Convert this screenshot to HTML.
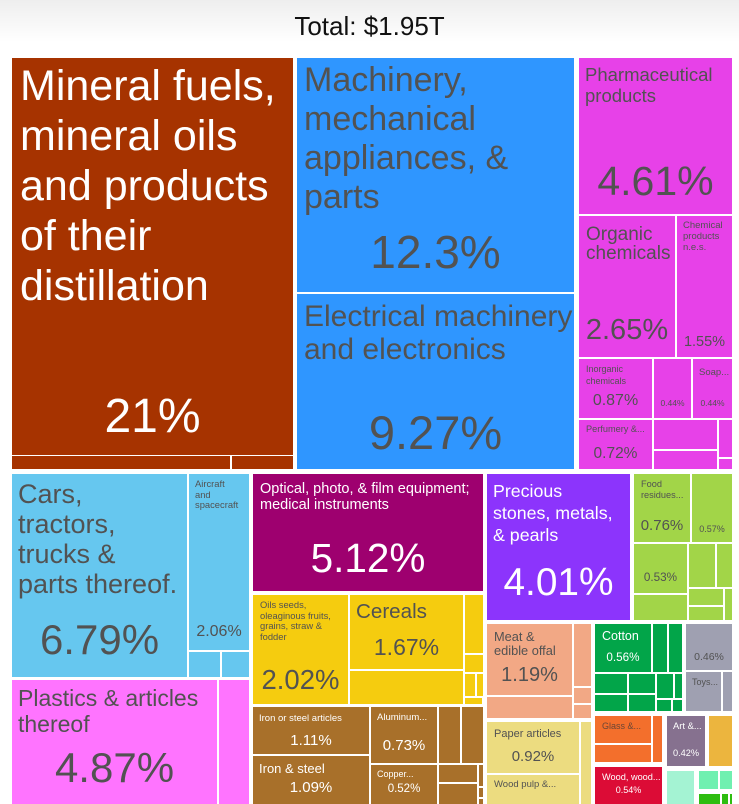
<!DOCTYPE html>
<html><head><meta charset="utf-8"><style>
body{margin:0;width:739px;height:804px;overflow:hidden;background:linear-gradient(#eeeeee,#ffffff 42px);font-family:"Liberation Sans",sans-serif;position:relative}
.r{position:absolute}
.t{position:absolute;white-space:nowrap;line-height:1;color:#525252}
.w{color:#fff}
.c{text-align:center}
.mf{background:#a63300}.bl{background:#2f96ff}.mg{background:#e741e8}.cb{background:#66c7ef}.pk{background:#ff74ff}
.op{background:#9e006f}.ye{background:#f5cc0f}.br{background:#a8702a}.pu{background:#8c34fc}.gr{background:#a2d548}
.sa{background:#f2a885}.pa{background:#ecdc80}.cg{background:#02a549}.gy{background:#9fa0b1}.or{background:#f36f2c}
.rd{background:#dc0c36}.ar{background:#86718f}.go{background:#ecb53e}.mi{background:#a4f3d3}.m2{background:#70f0b0}.bg{background:#2ebd10}
</style></head><body>
<div class="t c" style="left:0;top:13px;width:739px;font-size:26px;color:#111">Total: $1.95T</div>

<!-- Mineral fuels -->
<div class="r mf" style="left:12px;top:58px;width:281px;height:397px"></div>
<div class="r mf" style="left:12px;top:456px;width:218px;height:13px"></div>
<div class="r mf" style="left:232px;top:456px;width:61px;height:13px"></div>

<!-- Machinery / electrical -->
<div class="r bl" style="left:297px;top:58px;width:277px;height:234px"></div>
<div class="r bl" style="left:297px;top:294px;width:277px;height:175px"></div>

<!-- Chemicals -->
<div class="r mg" style="left:579px;top:58px;width:153px;height:156px"></div>
<div class="r mg" style="left:579px;top:216px;width:96px;height:141px"></div>
<div class="r mg" style="left:677px;top:216px;width:55px;height:141px"></div>
<div class="r mg" style="left:579px;top:359px;width:73px;height:59px"></div>
<div class="r mg" style="left:654px;top:359px;width:37px;height:59px"></div>
<div class="r mg" style="left:693px;top:359px;width:39px;height:59px"></div>
<div class="r mg" style="left:579px;top:420px;width:73px;height:49px"></div>
<div class="r mg" style="left:654px;top:420px;width:63px;height:29px"></div>
<div class="r mg" style="left:654px;top:451px;width:63px;height:18px"></div>
<div class="r mg" style="left:719px;top:420px;width:13px;height:37px"></div>
<div class="r mg" style="left:719px;top:459px;width:13px;height:10px"></div>

<!-- Cars / aircraft -->
<div class="r cb" style="left:12px;top:474px;width:175px;height:203px"></div>
<div class="r cb" style="left:189px;top:474px;width:60px;height:176px"></div>
<div class="r cb" style="left:189px;top:652px;width:31px;height:25px"></div>
<div class="r cb" style="left:222px;top:652px;width:27px;height:25px"></div>

<!-- Plastics -->
<div class="r pk" style="left:12px;top:680px;width:205px;height:124px"></div>
<div class="r pk" style="left:219px;top:680px;width:30px;height:124px"></div>

<!-- Optical -->
<div class="r op" style="left:253px;top:474px;width:230px;height:117px"></div>

<!-- Yellow -->
<div class="r ye" style="left:253px;top:595px;width:95px;height:109px"></div>
<div class="r ye" style="left:350px;top:595px;width:113px;height:74px"></div>
<div class="r ye" style="left:350px;top:671px;width:113px;height:33px"></div>
<div class="r ye" style="left:465px;top:595px;width:18px;height:58px"></div>
<div class="r ye" style="left:465px;top:655px;width:18px;height:17px"></div>
<div class="r ye" style="left:465px;top:674px;width:10px;height:22px"></div>
<div class="r ye" style="left:477px;top:674px;width:6px;height:22px"></div>
<div class="r ye" style="left:465px;top:698px;width:17px;height:6px"></div>

<!-- Brown metals -->
<div class="r br" style="left:253px;top:707px;width:116px;height:47px"></div>
<div class="r br" style="left:253px;top:756px;width:116px;height:48px"></div>
<div class="r br" style="left:371px;top:707px;width:66px;height:56px"></div>
<div class="r br" style="left:371px;top:765px;width:66px;height:39px"></div>
<div class="r br" style="left:439px;top:707px;width:21px;height:56px"></div>
<div class="r br" style="left:462px;top:707px;width:21px;height:56px"></div>
<div class="r br" style="left:439px;top:765px;width:38px;height:17px"></div>
<div class="r br" style="left:439px;top:784px;width:38px;height:20px"></div>
<div class="r br" style="left:479px;top:765px;width:4px;height:21px"></div>
<div class="r br" style="left:479px;top:788px;width:4px;height:9px"></div>
<div class="r br" style="left:479px;top:799px;width:4px;height:5px"></div>

<!-- Precious -->
<div class="r pu" style="left:487px;top:474px;width:143px;height:146px"></div>

<!-- Green food -->
<div class="r gr" style="left:634px;top:474px;width:56px;height:68px"></div>
<div class="r gr" style="left:692px;top:474px;width:40px;height:68px"></div>
<div class="r gr" style="left:634px;top:544px;width:53px;height:49px"></div>
<div class="r gr" style="left:634px;top:595px;width:53px;height:25px"></div>
<div class="r gr" style="left:689px;top:544px;width:26px;height:43px"></div>
<div class="r gr" style="left:717px;top:544px;width:15px;height:43px"></div>
<div class="r gr" style="left:689px;top:589px;width:34px;height:16px"></div>
<div class="r gr" style="left:689px;top:607px;width:34px;height:13px"></div>
<div class="r gr" style="left:725px;top:589px;width:7px;height:31px"></div>

<!-- Meat -->
<div class="r sa" style="left:487px;top:624px;width:85px;height:71px"></div>
<div class="r sa" style="left:487px;top:697px;width:85px;height:21px"></div>
<div class="r sa" style="left:574px;top:624px;width:17px;height:62px"></div>
<div class="r sa" style="left:574px;top:688px;width:17px;height:15px"></div>
<div class="r sa" style="left:574px;top:705px;width:17px;height:13px"></div>

<!-- Paper -->
<div class="r pa" style="left:487px;top:722px;width:92px;height:51px"></div>
<div class="r pa" style="left:487px;top:775px;width:92px;height:29px"></div>
<div class="r pa" style="left:581px;top:722px;width:10px;height:82px"></div>

<!-- Cotton / textiles -->
<div class="r cg" style="left:595px;top:624px;width:56px;height:48px"></div>
<div class="r cg" style="left:653px;top:624px;width:14px;height:48px"></div>
<div class="r cg" style="left:669px;top:624px;width:13px;height:48px"></div>
<div class="r cg" style="left:595px;top:674px;width:32px;height:19px"></div>
<div class="r cg" style="left:629px;top:674px;width:26px;height:19px"></div>
<div class="r cg" style="left:595px;top:695px;width:32px;height:16px"></div>
<div class="r cg" style="left:629px;top:695px;width:26px;height:16px"></div>
<div class="r cg" style="left:657px;top:674px;width:16px;height:24px"></div>
<div class="r cg" style="left:675px;top:674px;width:7px;height:24px"></div>
<div class="r cg" style="left:657px;top:700px;width:14px;height:11px"></div>
<div class="r cg" style="left:673px;top:700px;width:9px;height:11px"></div>

<!-- Gray -->
<div class="r gy" style="left:686px;top:624px;width:46px;height:46px"></div>
<div class="r gy" style="left:686px;top:672px;width:35px;height:39px"></div>
<div class="r gy" style="left:723px;top:672px;width:9px;height:39px"></div>

<!-- Glass -->
<div class="r or" style="left:595px;top:716px;width:56px;height:27px"></div>
<div class="r or" style="left:595px;top:745px;width:56px;height:17px"></div>
<div class="r or" style="left:653px;top:716px;width:9px;height:46px"></div>

<!-- Wood -->
<div class="r rd" style="left:595px;top:767px;width:67px;height:37px"></div>

<!-- Art / gold -->
<div class="r ar" style="left:667px;top:716px;width:38px;height:50px"></div>
<div class="r go" style="left:709px;top:716px;width:23px;height:50px"></div>

<!-- Mint / green -->
<div class="r mi" style="left:667px;top:771px;width:27px;height:33px"></div>
<div class="r m2" style="left:699px;top:771px;width:19px;height:18px"></div>
<div class="r m2" style="left:720px;top:771px;width:12px;height:18px"></div>
<div class="r bg" style="left:699px;top:794px;width:21px;height:10px"></div>
<div class="r bg" style="left:722px;top:794px;width:6px;height:10px"></div>
<div class="r bg" style="left:730px;top:794px;width:2px;height:10px"></div>

<!-- TEXT -->
<div class="t w" style="left:20px;top:61px;font-size:43px;line-height:50px">Mineral fuels,<br>mineral oils<br>and products<br>of their<br>distillation</div>
<div class="t w c" style="left:12px;top:393px;width:281px;font-size:48px">21%</div>

<div class="t" style="left:304px;top:61px;font-size:34px;line-height:39px">Machinery,<br>mechanical<br>appliances, &amp;<br>parts</div>
<div class="t c" style="left:297px;top:229px;width:277px;font-size:46px">12.3%</div>
<div class="t" style="left:304px;top:300px;font-size:30px;line-height:33px">Electrical machinery<br>and electronics</div>
<div class="t c" style="left:297px;top:409px;width:277px;font-size:47px">9.27%</div>

<div class="t" style="left:585px;top:64px;font-size:18.5px;line-height:21px">Pharmaceutical<br>products</div>
<div class="t c" style="left:579px;top:161px;width:153px;font-size:41px">4.61%</div>
<div class="t" style="left:586px;top:225px;font-size:19px;line-height:19px">Organic<br>chemicals</div>
<div class="t c" style="left:579px;top:316px;width:96px;font-size:29px">2.65%</div>
<div class="t" style="left:683px;top:220px;font-size:9.5px;line-height:11px">Chemical<br>products<br>n.e.s.</div>
<div class="t c" style="left:677px;top:335px;width:55px;font-size:14.5px">1.55%</div>
<div class="t" style="left:586px;top:364px;font-size:9px;line-height:11.5px">Inorganic<br>chemicals</div>
<div class="t c" style="left:579px;top:393px;width:73px;font-size:16px">0.87%</div>
<div class="t c" style="left:654px;top:399px;width:37px;font-size:8.5px">0.44%</div>
<div class="t" style="left:699px;top:368px;font-size:9.5px">Soap...</div>
<div class="t c" style="left:693px;top:399px;width:39px;font-size:8.5px">0.44%</div>
<div class="t" style="left:586px;top:425px;font-size:9.2px">Perfumery &amp;...</div>
<div class="t c" style="left:579px;top:446px;width:73px;font-size:15.5px">0.72%</div>

<div class="t" style="left:18px;top:479px;font-size:27px;line-height:30px">Cars,<br>tractors,<br>trucks &amp;<br>parts thereof.</div>
<div class="t c" style="left:12px;top:619px;width:175px;font-size:42px">6.79%</div>
<div class="t" style="left:195px;top:479px;font-size:9.4px;line-height:10.7px">Aircraft<br>and<br>spacecraft</div>
<div class="t c" style="left:189px;top:624px;width:60px;font-size:16px">2.06%</div>
<div class="t" style="left:18px;top:685px;font-size:23px;line-height:26px">Plastics &amp; articles<br>thereof</div>
<div class="t c" style="left:12px;top:747px;width:205px;font-size:42px">4.87%</div>

<div class="t w" style="left:260px;top:481px;font-size:14.5px;line-height:16px">Optical, photo, &amp; film equipment;<br>medical instruments</div>
<div class="t w c" style="left:253px;top:538px;width:230px;font-size:40.5px">5.12%</div>
<div class="t" style="left:260px;top:600px;font-size:9.4px;line-height:10.7px">Oils seeds,<br>oleaginous fruits,<br>grains, straw &amp;<br>fodder</div>
<div class="t c" style="left:253px;top:666px;width:95px;font-size:27.5px">2.02%</div>
<div class="t" style="left:356px;top:602px;font-size:20.6px">Cereals</div>
<div class="t c" style="left:350px;top:636px;width:113px;font-size:23px">1.67%</div>

<div class="t w" style="left:259px;top:714px;font-size:9.5px">Iron or steel articles</div>
<div class="t w c" style="left:253px;top:733px;width:116px;font-size:15px">1.11%</div>
<div class="t w" style="left:259px;top:762px;font-size:13px">Iron &amp; steel</div>
<div class="t w c" style="left:253px;top:780px;width:116px;font-size:15px">1.09%</div>
<div class="t w" style="left:377px;top:713px;font-size:9.5px">Aluminum...</div>
<div class="t w c" style="left:371px;top:738px;width:66px;font-size:15px">0.73%</div>
<div class="t w" style="left:377px;top:770px;font-size:9px">Copper...</div>
<div class="t w c" style="left:371px;top:784px;width:66px;font-size:11.5px">0.52%</div>

<div class="t w" style="left:493px;top:480px;font-size:17.8px;line-height:22px">Precious<br>stones, metals,<br>&amp; pearls</div>
<div class="t w c" style="left:487px;top:564px;width:143px;font-size:38.8px">4.01%</div>

<div class="t" style="left:641px;top:479px;font-size:9.2px;line-height:10.7px">Food<br>residues...</div>
<div class="t c" style="left:634px;top:518px;width:56px;font-size:15px">0.76%</div>
<div class="t c" style="left:692px;top:525px;width:40px;font-size:9px">0.57%</div>
<div class="t c" style="left:634px;top:572px;width:53px;font-size:11.7px">0.53%</div>

<div class="t" style="left:494px;top:630px;font-size:12.8px;line-height:14px">Meat &amp;<br>edible offal</div>
<div class="t c" style="left:487px;top:665px;width:85px;font-size:20px">1.19%</div>
<div class="t" style="left:494px;top:729px;font-size:11px">Paper articles</div>
<div class="t c" style="left:487px;top:749px;width:92px;font-size:15px">0.92%</div>
<div class="t" style="left:494px;top:780px;font-size:9.5px">Wood pulp &amp;...</div>

<div class="t w" style="left:602px;top:630px;font-size:12.5px">Cotton</div>
<div class="t w c" style="left:595px;top:652px;width:56px;font-size:11.7px">0.56%</div>
<div class="t c" style="left:686px;top:652px;width:46px;font-size:10.5px">0.46%</div>
<div class="t" style="left:692px;top:678px;font-size:9px">Toys...</div>
<div class="t" style="left:602px;top:722px;font-size:9px;color:#6a4636">Glass &amp;...</div>
<div class="t w" style="left:673px;top:721px;font-size:9.4px">Art &amp;...</div>
<div class="t w c" style="left:667px;top:749px;width:38px;font-size:9.2px">0.42%</div>
<div class="t w" style="left:602px;top:773px;font-size:9.2px">Wood, wood...</div>
<div class="t w c" style="left:595px;top:786px;width:67px;font-size:9px">0.54%</div>
</body></html>
